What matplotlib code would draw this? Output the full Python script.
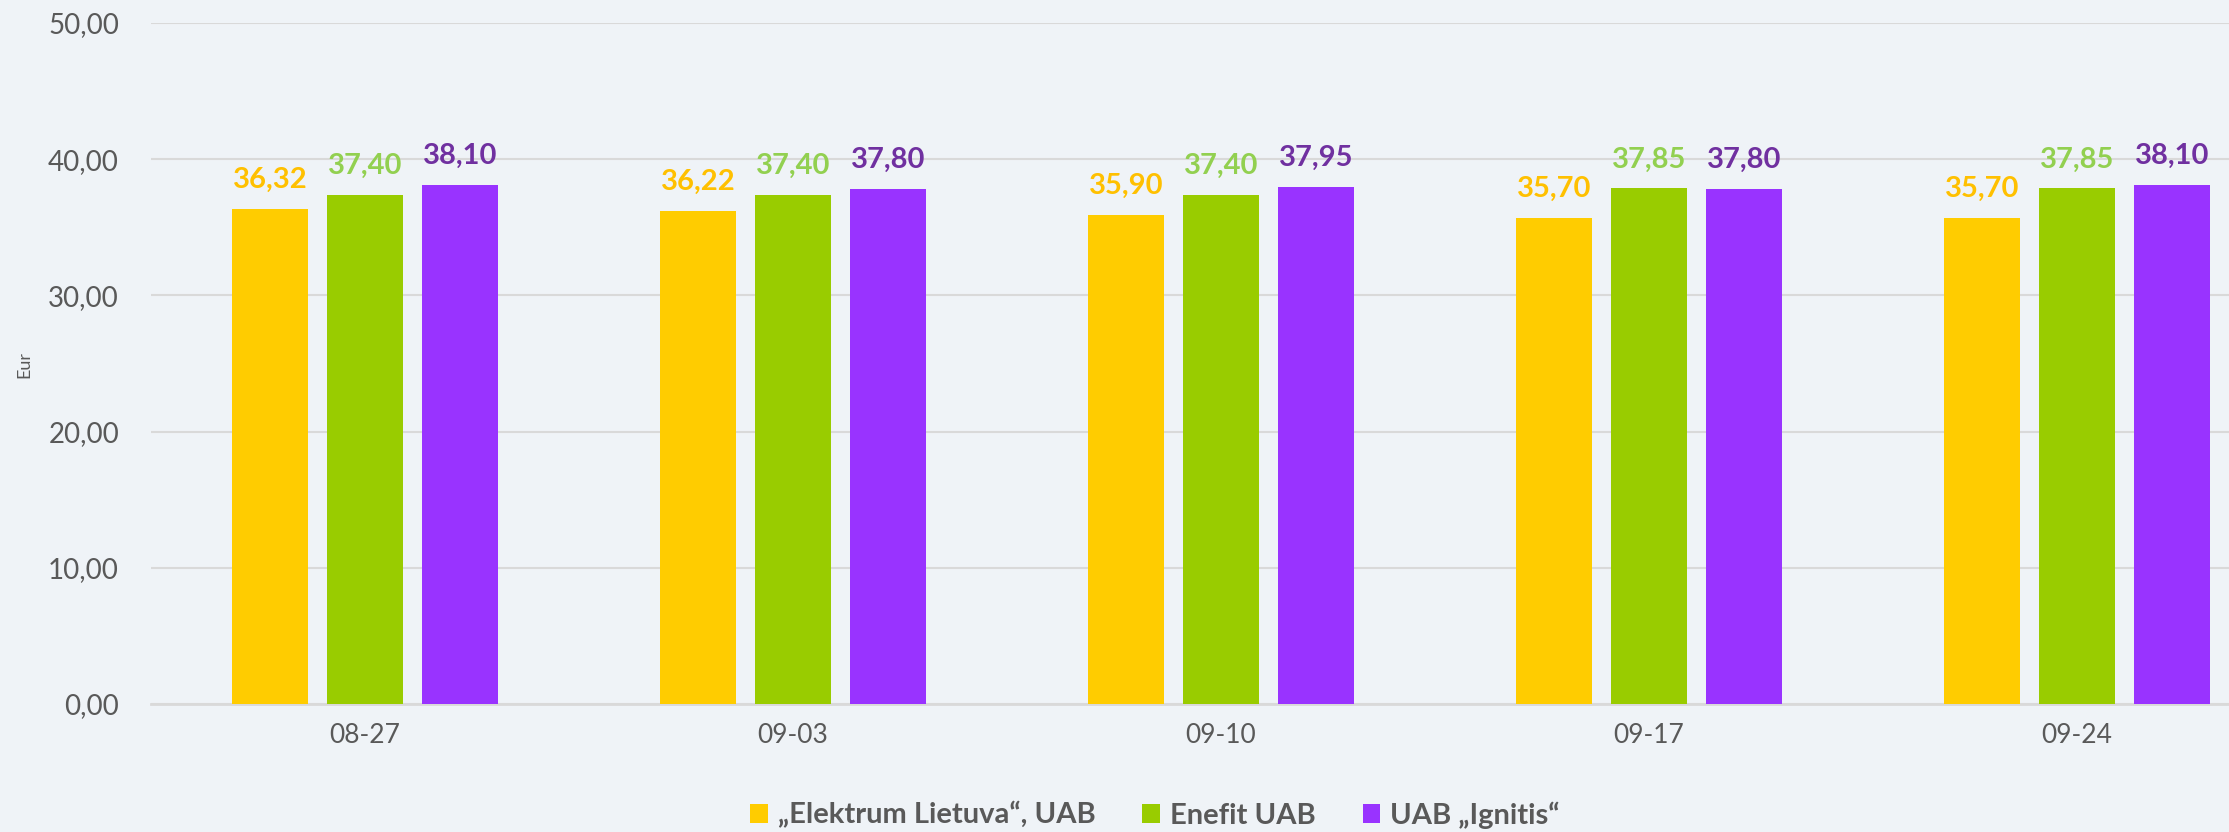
import matplotlib.pyplot as plt
import numpy as np

# Data
dates = ["08-27", "09-03", "09-10", "09-17", "09-24"]
series_names = ["\u201eElektrum Lietuva\u201c, UAB", "Enefit UAB", "UAB \u201eIgnitis\u201c"]
elektrum = [36.32, 36.22, 35.90, 35.70, 35.70]
enefit = [37.40, 37.40, 37.40, 37.85, 37.85]
ignitis = [38.10, 37.80, 37.95, 37.80, 38.10]

bar_colors = ["#FFCC00", "#99CC00", "#9933FF"]
label_colors = ["#FFC000", "#92D050", "#7030A0"]
bg = "#EFF3F7"
text_col = "#595959"

plt.rcParams['font.family'] = ['Lato', 'DejaVu Sans']

fig = plt.figure(figsize=(22.29, 8.32), dpi=100, facecolor=bg)
# axes runs a bit past the right edge, as in the original crop
ax = fig.add_axes([151 / 2229, 1 - 704 / 832, 2140 / 2229, (704 - 23) / 832])
ax.set_facecolor(bg)

x = np.arange(len(dates))
bar_w = 0.176
step = 0.222

for i, (vals, name) in enumerate(zip([elektrum, enefit, ignitis], series_names)):
    pos = x + (i - 1) * step
    ax.bar(pos, vals, bar_w, color=bar_colors[i], label=name, zorder=3)
    for px, v in zip(pos, vals):
        ax.text(px, v + 1.55, f"{v:.2f}".replace(".", ","), ha='center', va='baseline',
                color=label_colors[i], fontsize=21, fontweight='bold', zorder=4)

ax.set_xlim(-0.5, 4.5)
ax.set_ylim(0, 50)
ax.set_yticks(np.arange(0, 51, 10))
ax.set_yticklabels([f"{t:.2f}".replace(".", ",") for t in np.arange(0, 51, 10)])
ax.set_xticks(x)
ax.set_xticklabels(dates)
ax.grid(axis='y', color='#D9D9D9', linewidth=1.5, zorder=0)
ax.set_axisbelow(True)
for s in ['top', 'right', 'left']:
    ax.spines[s].set_visible(False)
ax.spines['bottom'].set_color('#D9D9D9')
ax.spines['bottom'].set_linewidth(2)
ax.tick_params(axis='both', length=0, labelsize=19, colors=text_col)
ax.tick_params(axis='y', pad=23, labelsize=20)
ax.tick_params(axis='x', pad=14)

fig.text(24 / 2229, 1 - 364 / 832, "Eur", rotation=90, ha='center', va='center',
         fontsize=13, color=text_col)

leg = fig.legend(loc='center', bbox_to_anchor=(1155 / 2229, 1 - 815 / 832), ncol=3,
                 frameon=False, fontsize=21, handlelength=0.6, handleheight=0.6,
                 handletextpad=0.35, columnspacing=1.6)
for t in leg.get_texts():
    t.set_color(text_col)
    t.set_fontweight('bold')

fig.savefig("out.png", dpi=100, facecolor=bg)
